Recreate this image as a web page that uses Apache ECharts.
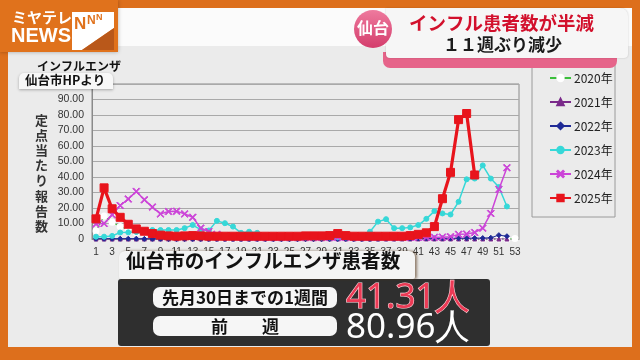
<!DOCTYPE html>
<html><head><meta charset="utf-8">
<script src="https://cdn.jsdelivr.net/npm/echarts@6/dist/echarts.min.js"></script>
<style>html,body{margin:0;padding:0;background:#ebebeb}#c{width:640px;height:360px}</style>
</head><body><div id="c"></div>
<script>
const weeks = ['1','2','3','4','5','6','7','8','9','10','11','12','13','14','15','16','17','18','19','20','21','22','23','24','25','26','27','28','29','30','31','32','33','34','35','36','37','38','39','40','41','42','43','44','45','46','47','48','49','50','51','52','53'];
const seriesNames = ['2020年','2021年','2022年','2023年','2024年','2025年'];
const y2020 = [5.2,14.8,10.8,8,6,4,3,2,1.2,0.8,0.5,0.3,0.2,0.1,0,0,0,0,0,0,0,0,0,0,0,0,0,0,0,0,0,0,0,0,0,0,0,0,0,0,0,0,0,0,0,0,0,0,0,0,0,0,0.3];
const y2021 = [0,0,0,0,0,0,0,0,0,0,0,0,0,0,0,0,0,0,0,0,0,0,0,0,0,0,0,0,0,0,0,0,0,0,0,0,0,0,0,0,0,0,0,0,0,0,0,0,0,0,0,0];
const y2022 = [0.2,0.2,0.2,0.2,0.2,0.2,0.1,0.1,0.1,0,0,0,0,0,0,0,0,0,0,0,0,0,0,0,0,0,0,0,0,0,0,0,0,0,0,0.1,0.2,0.2,0.3,0.3,0.4,0.4,0.5,0.5,0.5,0.5,0.5,0.6,0.6,0.8,2.5,1.8];
const y2023 = [1.5,1.5,2,4.2,4.3,4.5,5,5.8,5.8,5.8,5.8,7,9,6,5.5,11.7,10.2,8,4,4.7,4,2,1.5,1.2,1,1,1,1,1,1,1,1,1,1.5,4.7,11.2,12.8,7,7,7.5,9,13,18,16.5,15.8,24,38.5,39,47.5,39,33.5,21];
const y2024 = [9.7,10,15.6,21.6,25.8,30.7,25.3,20.6,16.2,17.7,17.9,16.2,14,7,4.8,3,2,1.5,1.2,1,1,1,1,1,1,1,1,1,1,1,1,1,1,1,1,1,1,1,1,1,1,1.1,1.1,1.2,1.5,3,3.2,4.2,7,16.5,32,46];
const y2025 = [13,33,19.5,14,9.5,6.5,5,3.5,2.5,2,1.8,2,2.2,2,1.8,1.8,1.8,1.8,1.8,1.8,1.8,1.8,1.8,1.8,1.8,1.8,2,2,2,2.2,3.5,2.2,1.8,1.8,1.8,1.8,1.8,1.8,1.8,2.2,3,4,8,26,43,77,80.96,41.31];
const yTicks = ['0','10.00','20.00','30.00','40.00','50.00','60.00','70.00','80.00','90.00',''];
const yAxisTitle = ['定','点','当','た','り','報','告','数'];
const latestLabel = '先月30日までの1週間';
const latestValue = '41.31人';
const prevLabel = '前　　週';
const prevValue = '80.96人';

const JP = '"Noto Sans CJK JP", "Noto Sans", sans-serif';
const xPath = 'path://M0,1L1,0L5,4L9,0L10,1L6,5L10,9L9,10L5,6L1,10L0,9L4,5Z';

const styles = [
  {color:'#3cbf3c', symbol:'emptyCircle', size:5, width:1},
  {color:'#7a2a8a', symbol:'triangle', size:4, width:1},
  {color:'#1f2a96', symbol:'diamond', size:5, width:1},
  {color:'#36d8d8', symbol:'circle', size:5, width:1.5},
  {color:'#cc44d8', symbol:xPath, size:7, width:1.5},
  {color:'#e8141c', symbol:'rect', size:8, width:3.2}
];
const data = [y2020,y2021,y2022,y2023,y2024,y2025];

const chart = echarts.init(document.getElementById('c'));
const series = seriesNames.map((n,i)=>({
  name:n, type:'line', data:data[i], showAllSymbol:true,
  symbol:styles[i].symbol, symbolSize:styles[i].size,
  lineStyle:{color:styles[i].color, width:styles[i].width},
  itemStyle:{color:styles[i].symbol==='emptyCircle'?'#fff':styles[i].color, borderColor:styles[i].color, borderWidth:1},
  z: 2+i
}));

const z = 100;
chart.setOption({
  animation:false,
  backgroundColor:'#ebebeb',
  grid:{left:92, right:121, top:84, bottom:121, show:true, borderColor:'#8a8a8a', borderWidth:1},
  xAxis:{type:'category', data:weeks, boundaryGap:true,
    axisLine:{lineStyle:{color:'#8a8a8a'}}, axisTick:{show:false},
    axisLabel:{interval:1, color:'#333', fontSize:10, margin:8, fontFamily:'Arial'}},
  yAxis:{type:'value', min:0, max:100, interval:10,
    axisLine:{show:true, lineStyle:{color:'#8a8a8a'}},
    splitLine:{lineStyle:{color:'#a9a9a9', width:1.2}},
    axisLabel:{color:'#333', fontSize:10.5, margin:8, fontFamily:'Arial', formatter:(v)=>yTicks[Math.round(v/10)]}},
  legend:{orient:'vertical', left:544, top:67, itemWidth:21, itemHeight:8, itemGap:12,
    data:seriesNames, textStyle:{fontSize:12, color:'#222', fontFamily:JP, padding:[0,0,0,-2]}},
  series:series,
  graphic:[
    {type:'rect', shape:{x:532, y:50, width:83, height:167}, style:{fill:'none', stroke:'#9a9a9a', lineWidth:1}, z:1},
    {type:'text', left:35, top:112, style:{text:yAxisTitle.join('\n'), fontSize:13, lineHeight:15.2, fill:'#333', fontFamily:JP, fontWeight:'bold', align:'center'}, z:z},
    {type:'rect', shape:{x:19, y:73, width:94, height:16, r:[5,5,0,0]}, style:{fill:'#f7f7f7', shadowBlur:3, shadowColor:'rgba(0,0,0,0.3)', shadowOffsetY:1}, z:z},
    {type:'text', left:37, top:60, style:{text:'インフルエンザ', fontSize:12, fontWeight:'bold', fill:'#111', fontFamily:JP}, z:z},
    {type:'text', left:25, top:74, style:{text:'仙台市HPより', fontSize:12.5, fontWeight:'bold', fill:'#111', fontFamily:JP}, z:z},
    {type:'rect', shape:{x:0, y:0, width:640, height:8}, style:{fill:'#dd6f1c'}, z:z},
    {type:'rect', shape:{x:0, y:0, width:8, height:360}, style:{fill:'#dd6f1c'}, z:z},
    {type:'rect', shape:{x:632, y:0, width:8, height:360}, style:{fill:'#dd6f1c'}, z:z},
    {type:'rect', shape:{x:0, y:347, width:640, height:13}, style:{fill:'#dd6f1c'}, z:z},
    {type:'rect', shape:{x:118, y:8, width:514, height:38}, style:{fill:'#fbfbfb'}, z:z},
    {type:'rect', shape:{x:0, y:0, width:118, height:52}, style:{fill:'#e0721c', shadowBlur:4, shadowColor:'rgba(0,0,0,0.3)'}, z:z},
    {type:'text', left:12, top:10, style:{text:'ミヤテレ', fontSize:15, fontWeight:'bold', fill:'#fff', fontFamily:JP}, z:z+1},
    {type:'text', left:11, top:26, style:{text:'NEWS', fontSize:20, fontWeight:'bold', fill:'#fff', fontFamily:'"Liberation Sans Narrow", "Liberation Sans", Arial'}, z:z+1},
    {type:'polygon', shape:{points:[[72,12],[114,12],[114,28],[82,50],[72,50]]}, style:{fill:'#fff'}, z:z+1},
    {type:'polygon', shape:{points:[[114,28],[114,50],[82,50]]}, style:{fill:'#b9581a'}, z:z+1},
    {type:'text', left:74, top:16, style:{text:'N', fontSize:17, fontWeight:'bold', fill:'#e0721c', fontFamily:'Arial'}, z:z+2},
    {type:'text', left:87, top:15, style:{text:'N', fontSize:12, fontWeight:'bold', fill:'#e0721c', fontFamily:'Arial'}, z:z+2},
    {type:'text', left:96, top:13, style:{text:'N', fontSize:9, fontWeight:'bold', fill:'#e0721c', fontFamily:'Arial'}, z:z+2},
    {type:'rect', shape:{x:383, y:52, width:234, height:16, r:[0,0,7,7]}, style:{fill:'#e6648a'}, z:z},
    {type:'rect', shape:{x:386, y:8, width:242, height:50, r:[0,8,4,4]}, style:{fill:'#f6f6f6', shadowBlur:2, shadowColor:'rgba(0,0,0,0.2)'}, z:z+1},
    {type:'circle', shape:{cx:373, cy:29, r:19}, style:{fill:new echarts.graphic.LinearGradient(0,0,0,1,[{offset:0,color:'#ee7a9e'},{offset:1,color:'#d43d6c'}])}, z:z+2},
    {type:'text', left:357, top:20, style:{text:'仙台', fontSize:16, fontWeight:'bold', fill:'#fff', fontFamily:JP}, z:z+3},
    {type:'text', left:409, top:14, style:{text:'インフル患者数が半減', fontSize:18.5, fontWeight:'bold', fill:'#d2102c', fontFamily:JP}, z:z+3},
    {type:'text', left:443, top:36, style:{text:'１１週ぶり減少', fontSize:17, fontWeight:'bold', fill:'#1a1a1a', fontFamily:JP}, z:z+3},
    {type:'rect', shape:{x:118, y:279, width:372, height:67, r:3}, style:{fill:'#2f2f2f'}, z:z},
    {type:'rect', shape:{x:119, y:251, width:296, height:28, r:[6,6,2,2]}, style:{fill:'#f4f4f4', shadowBlur:3, shadowColor:'rgba(80,50,20,0.6)', shadowOffsetX:2}, z:z+1},
    {type:'text', left:126, top:251, style:{text:'仙台市のインフルエンザ患者数', fontSize:19.6, fontWeight:'bold', fill:'#111', fontFamily:JP}, z:z+2},
    {type:'rect', shape:{x:153, y:287, width:184, height:21, r:7}, style:{fill:'#f6f6f6'}, z:z+1},
    {type:'rect', shape:{x:153, y:316, width:184, height:20, r:7}, style:{fill:'#f6f6f6'}, z:z+1},
    {type:'text', x:245, y:298, style:{text:latestLabel, fontSize:17, fontWeight:'bold', fill:'#111', fontFamily:JP, align:'center', verticalAlign:'middle'}, z:z+2},
    {type:'text', x:245, y:327, style:{text:prevLabel, fontSize:17, fontWeight:'bold', fill:'#111', fontFamily:JP, align:'center', verticalAlign:'middle'}, z:z+2},
    {type:'text', x:346, y:298, style:{text:latestValue, fontSize:35, fill:'#ec3a55', stroke:'#ffd6dc', lineWidth:1.2, fontFamily:'"Noto Sans", sans-serif', align:'left', verticalAlign:'middle'}, z:z+2},
    {type:'text', x:346, y:328, style:{text:prevValue, fontSize:35, fill:'#ffffff', fontFamily:'"Noto Sans", sans-serif', align:'left', verticalAlign:'middle'}, z:z+2}
  ]
});
</script></body></html>
